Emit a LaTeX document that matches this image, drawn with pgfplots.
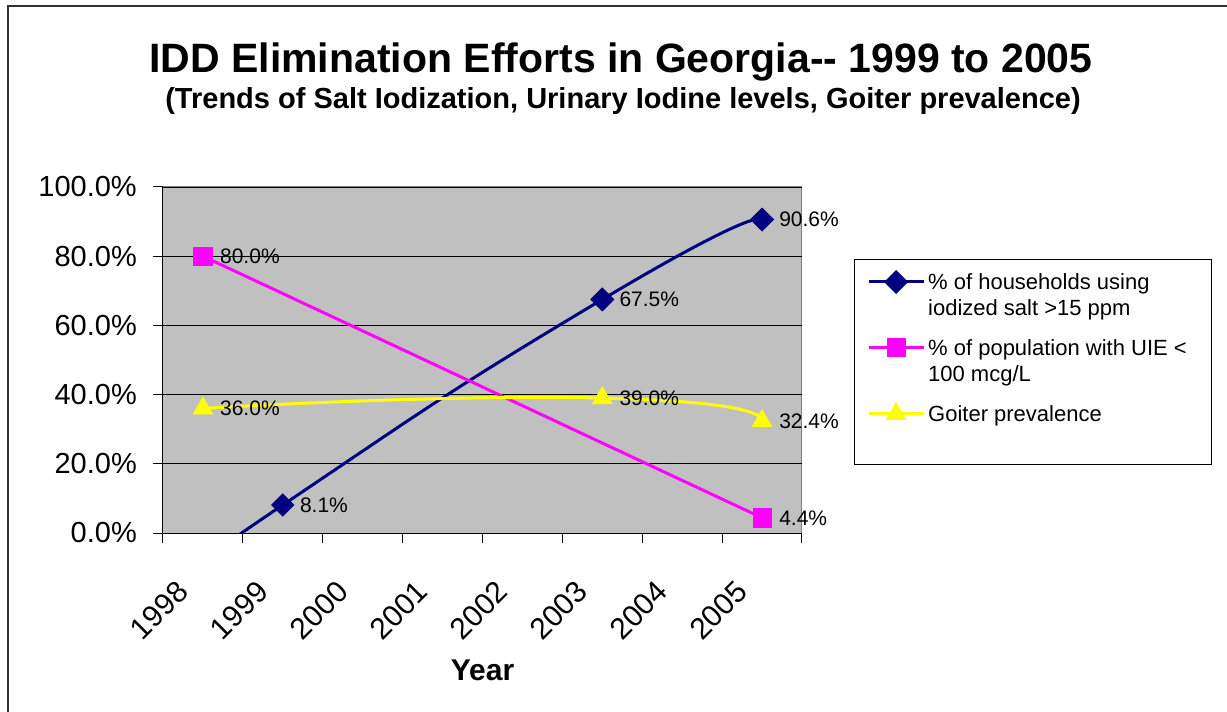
\documentclass[border=0pt]{standalone}
\usepackage{fontspec}
\setmainfont{Liberation Sans}
\usepackage{pgfplots}
\pgfplotsset{compat=1.18}
\definecolor{navyc}{HTML}{000080}
\definecolor{magc}{HTML}{FF00FF}
\definecolor{yelc}{HTML}{FFFF00}
\definecolor{plotbg}{HTML}{C0C0C0}
\begin{document}
\begin{tikzpicture}
\useasboundingbox (-163pt,-179pt) rectangle (1064pt,533pt);
\draw[line width=2pt, black!80] (-155pt,-300pt) -- (-155pt,526.5pt) -- (1200pt,526.5pt);
\node[font=\fontsize{41}{49}\selectfont\bfseries, anchor=base, inner sep=0pt] at (458pt,460pt) {IDD Elimination Efforts in Georgia{-}{-} 1999 to 2005};
\node[font=\fontsize{29}{34}\selectfont\bfseries, anchor=base, inner sep=0pt] at (460pt,424pt) {(Trends of Salt Iodization, Urinary Iodine levels, Goiter prevalence)};
\begin{axis}[
  scale only axis, width=639pt, height=346pt,
  xmin=-0.5, xmax=7.5, ymin=0, ymax=100,
  axis background/.style={fill=plotbg, draw=gray, line width=1pt},
  axis x line*=bottom, axis y line*=left,
  axis line style={black, line width=1pt, -},
  tick align=outside, major tick length=10pt,
  tick style={black, line width=1pt},
  xtick={-0.5,0.5,1.5,2.5,3.5,4.5,5.5,6.5,7.5},
  xticklabels={1998,1999,2000,2001,2002,2003,2004,2005,{}},
  xticklabel style={font=\fontsize{30}{34}\selectfont, inner sep=0pt, xshift=20pt, yshift=-43.5pt, rotate=45, anchor=east},
  ytick={0,20,40,60,80,100},
  yticklabel={\pgfmathprintnumber[fixed,fixed zerofill,precision=1]{\tick}\%},
  yticklabel style={font=\fontsize{29}{32}\selectfont, inner sep=0pt, anchor=east, xshift=-16pt},
  /pgf/number format/assume math mode=true,
  ymajorgrids, grid style={black, line width=0.8pt},
  xlabel={Year},
  xlabel style={font=\fontsize{30}{34}\selectfont\bfseries, at={(rel axis cs:0.5,0)}, anchor=base, yshift=-147pt, inner sep=0pt},
  legend image code/.code={\draw[#1, mark indices={2}] plot coordinates {(0pt,8pt) (27.5pt,8pt) (55pt,8pt)};},
  legend style={draw=none, fill=none, at={(axis description cs:1.1017,0.7665)}, anchor=north west, inner sep=0pt, row sep=0pt, column sep=1pt, font=\fontsize{22}{25}\selectfont, cells={anchor=base west, inner sep=0pt}},
  every node near coord/.append style={black, anchor=west, inner sep=0pt, xshift=17pt, font=\fontsize{21}{24}\selectfont},
]
\addplot[navyc, line width=3pt, smooth, tension=1.2, mark=square*, mark options={rotate=45, solid, fill=navyc, line width=1pt}, mark size=8pt, mark indices={2,3,4}]
  coordinates {(0,-10) (1,8.1) (5,67.5) (7,90.6)};
\addlegendentry{\rule{0pt}{20pt}\% of households using}
\addlegendimage{empty legend}
\addlegendentry{\rule{0pt}{20pt}iodized salt >15 ppm}
\addplot[magc, line width=3pt, mark=square*, mark options={solid, fill=magc, line width=1pt}, mark size=9pt]
  coordinates {(0,80.0) (7,4.4)};
\addlegendentry{\rule{0pt}{35pt}\% of population with UIE <}
\addlegendimage{empty legend}
\addlegendentry{\rule{0pt}{20pt}100 mcg/L}
\addplot[yelc, line width=3pt, smooth, tension=1.1, mark=triangle*, mark options={solid, fill=yelc, line width=1pt}, mark size=11pt]
  coordinates {(0,36.0) (5,39.0) (7,32.4)};
\addlegendentry{\rule{0pt}{35pt}Goiter prevalence}
\addplot[forget plot, only marks, navyc, mark=square*, mark options={rotate=45, fill=navyc}, mark size=8pt, nodes near coords, point meta=explicit symbolic]
  coordinates {(1,8.1) [8.1\%] (5,67.5) [67.5\%] (7,90.6) [90.6\%]};
\addplot[forget plot, only marks, magc, mark=square*, mark options={fill=magc}, mark size=9pt, nodes near coords, point meta=explicit symbolic]
  coordinates {(0,80.0) [80.0\%] (7,4.4) [4.4\%]};
\addplot[forget plot, only marks, yelc, mark=triangle*, mark options={fill=yelc}, mark size=11pt, nodes near coords, point meta=explicit symbolic]
  coordinates {(0,36.0) [36.0\%] (5,39.0) [39.0\%] (7,32.4) [32.4\%]};
\end{axis}
\draw[black, line width=1pt] (691pt,68pt) rectangle (1048pt,273pt);
\end{tikzpicture}
\end{document}
